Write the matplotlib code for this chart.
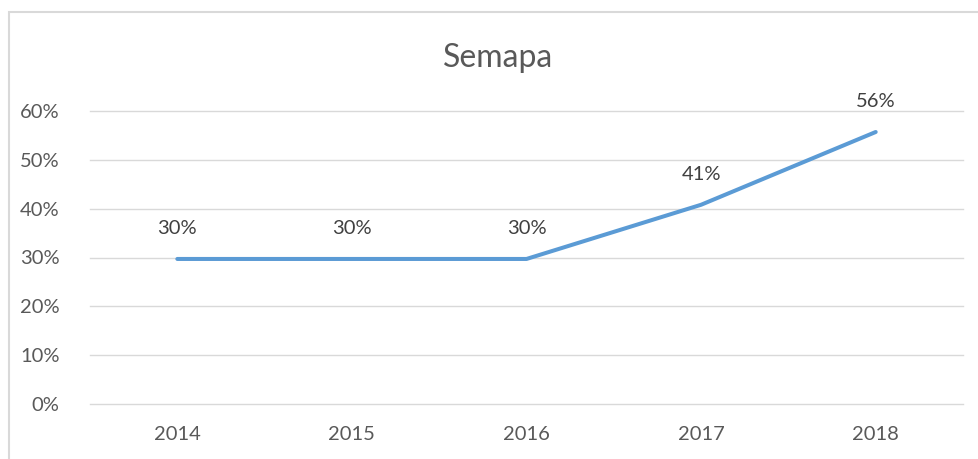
import matplotlib.pyplot as plt
from matplotlib.patches import Rectangle

# data
years = ['2014', '2015', '2016', '2017', '2018']
share = [0.297, 0.297, 0.297, 0.408, 0.557]
labels = ['30%', '30%', '30%', '41%', '56%']
yticks = [0, 0.1, 0.2, 0.3, 0.4, 0.5, 0.6]

plt.rcParams['font.family'] = ['Lato', 'DejaVu Sans']

fig = plt.figure(figsize=(9.79, 4.59), dpi=100)
ax = fig.add_axes([90 / 979, 55 / 459, 873 / 979, 293 / 459])

# chart border (cropped on right and bottom)
fig.patches.append(Rectangle((9 / 979, -0.1), 1.2, (459 - 12) / 459 + 0.1,
                             transform=fig.transFigure, fill=False,
                             edgecolor='#d9d9d9', linewidth=1.5))

x = list(range(len(years)))
ax.plot(x, share, color='#5b9bd5', linewidth=2.9, solid_capstyle='round', zorder=3)
for xi, v, t in zip(x, share, labels):
    ax.annotate(t, (xi, v), xytext=(0, 22), textcoords='offset points',
                ha='center', va='center', fontsize=14.5, color='#404040')

ax.set_xlim(-0.5, len(years) - 0.5)
ax.set_ylim(0, 0.6)
ax.set_xticks(x)
ax.set_xticklabels(years)
ax.set_yticks(yticks)
ax.set_yticklabels(['%d%%' % round(t * 100) for t in yticks])
ax.tick_params(length=0, labelsize=14.5, labelcolor='#595959')
ax.tick_params(axis='x', pad=16)
ax.tick_params(axis='y', pad=22)
ax.grid(axis='y', color='#d9d9d9', linewidth=1)
for gl in ax.get_ygridlines():
    gl.set_clip_on(False)
ax.set_axisbelow(True)
for s in ax.spines.values():
    s.set_visible(False)

fig.text(498 / 979, (459 - 58) / 459, 'Semapa', ha='center', va='center',
         fontsize=23, color='#595959')

fig.savefig('out.png', dpi=100)
